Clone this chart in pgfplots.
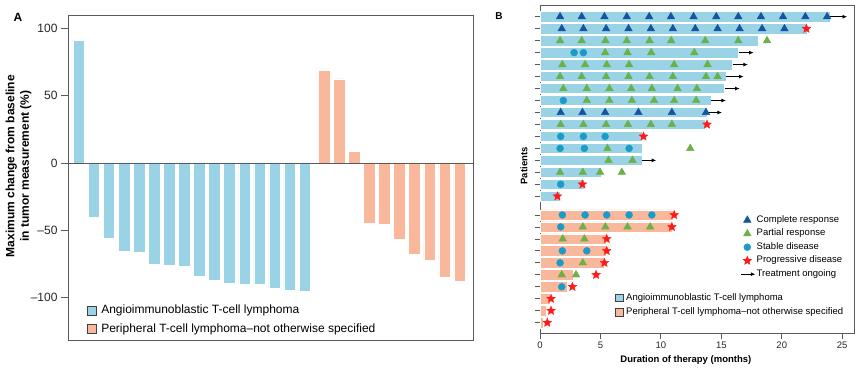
\documentclass[border=0pt]{standalone}
\usepackage{fontspec}
\setmainfont{Liberation Sans}
\usepackage{pgfplots}
\pgfplotsset{compat=1.18}
\usetikzlibrary{arrows.meta}
\definecolor{aitl}{HTML}{9BD3E6}
\definecolor{ptcl}{HTML}{F9B79B}
\definecolor{cr}{HTML}{1455A0}
\definecolor{pr}{HTML}{6CB04A}
\definecolor{sd}{HTML}{1B9CC8}
\definecolor{pd}{HTML}{FF1A1A}
\definecolor{axgray}{HTML}{5A5A5A}
\pgfdeclareplotmark{fstar}{%
  \pgfpathmoveto{\pgfpointpolar{90}{\pgfplotmarksize}}%
  \pgfpathlineto{\pgfpointpolar{126}{0.45\pgfplotmarksize}}%
  \pgfpathlineto{\pgfpointpolar{162}{\pgfplotmarksize}}%
  \pgfpathlineto{\pgfpointpolar{198}{0.45\pgfplotmarksize}}%
  \pgfpathlineto{\pgfpointpolar{234}{\pgfplotmarksize}}%
  \pgfpathlineto{\pgfpointpolar{270}{0.45\pgfplotmarksize}}%
  \pgfpathlineto{\pgfpointpolar{306}{\pgfplotmarksize}}%
  \pgfpathlineto{\pgfpointpolar{342}{0.45\pgfplotmarksize}}%
  \pgfpathlineto{\pgfpointpolar{18}{\pgfplotmarksize}}%
  \pgfpathlineto{\pgfpointpolar{54}{0.45\pgfplotmarksize}}%
  \pgfpathclose
  \pgfusepathqfillstroke
}
\pgfplotsset{
  markleg/.style={legend image code/.code={\draw[mark repeat=2,mark phase=2,##1] plot coordinates {(0pt,0pt)(6pt,0pt)(12pt,0pt)};}},
  arrowleg/.style={legend image code/.code={\draw[##1] (0pt,0pt) -- (14pt,0pt);}},
  boxA/.style={legend image code/.code={\draw[fill=#1,draw=black!75,line width=0.7pt] (0pt,-4.5pt) rectangle (9pt,4.5pt); \path (12pt,0pt);}},
  boxB/.style={legend image code/.code={\draw[fill=#1,draw=black!75,line width=0.6pt] (0pt,-3.8pt) rectangle (7.6pt,3.8pt); \path (9.5pt,0pt);}},
}
\begin{document}
\begin{tikzpicture}
\path[use as bounding box] (0pt,0pt) rectangle (865pt,372pt);
\node[font=\bfseries\fontsize{12}{14}\selectfont] at (18pt,355pt) {A};
\node[font=\bfseries\fontsize{10}{12}\selectfont] at (499pt,356pt) {B};
% ---------------- Panel A ----------------
\begin{axis}[
  at={(68pt,32pt)}, anchor=south west, scale only axis,
  width=405pt, height=325pt,
  xmin=0.283, xmax=27.16, ymin=-131.6, ymax=110,
  xtick=\empty,
  ytick={-100,-50,0,50,100},
  yticklabels={--100,--50,0,50,100},
  ytick pos=left, tick align=outside, major tick length=7pt,
  tick style={axgray, line width=0.9pt},
  axis line style={axgray, line width=0.9pt},
  /pgf/number format/assume math mode=true,
  tick label style={font=\fontsize{12}{14}\selectfont, text=black!85},
  ylabel={Maximum change from baseline\\in tumor measurement (\%)},
  ylabel style={at={(axis description cs:-0.1222,0.535)}, anchor=center, align=center,
    font=\bfseries\fontsize{12}{14.5}\selectfont},
  legend cell align=left,
  legend style={at={(0.047,0.114)}, anchor=north west, draw=none, fill=none,
    inner sep=0pt, font=\fontsize{12}{14}\selectfont, row sep=3.7pt,
    nodes={inner sep=1.5pt, text height=9pt, text depth=3pt}},
]
\addplot[ybar, bar width=0.77, bar shift=0pt, fill=aitl, draw=white, line width=0.5pt, forget plot]
 coordinates {(1,91)(2,-40)(3,-56)(4,-65.4)(5,-66.4)(6,-75.3)(7,-76.1)(8,-77.1)
 (9,-84)(10,-87.5)(11,-89.2)(12,-90.2)(13,-90.2)(14,-93.4)(15,-94.4)(16,-95.4)};
\addplot[ybar, bar width=0.77, bar shift=0pt, fill=ptcl, draw=white, line width=0.5pt, forget plot]
 coordinates {(17.28,68.6)(18.28,62.5)(19.28,8.4)(20.28,-44.6)(21.28,-45.6)
 (22.28,-56.7)(23.28,-68.2)(24.28,-72.4)(25.28,-84.8)(26.28,-88.2)};
\addplot[axgray, line width=0.9pt, forget plot] coordinates {(0.283,0)(27.16,0)};
\addlegendimage{boxA=aitl}
\addlegendentry{Angioimmunoblastic T-cell lymphoma}
\addlegendimage{boxA=ptcl}
\addlegendentry{Peripheral T-cell lymphoma--not otherwise specified}
\end{axis}
% ---------------- Panel B ----------------
\begin{axis}[
  at={(540pt,38.7pt)}, anchor=south west, scale only axis,
  width=314.3pt, height=328.3pt,
  xmin=0, xmax=26, ymin=0.114, ymax=27.54,
  xtick={0,5,10,15,20,25},
  ytick={1,2,3,4,5,6,7,8,9,10,11.56,12.56,13.56,14.56,15.56,16.56,17.56,18.56,19.56,20.56,21.56,22.56,23.56,24.56,25.56,26.56},
  yticklabels={},
  xtick pos=bottom, ytick pos=left, tick align=outside, major tick length=5.5pt,
  tick style={axgray, line width=0.8pt},
  axis line style={axgray, line width=0.9pt},
  /pgf/number format/assume math mode=true,
  tick label style={font=\fontsize{9.5}{11}\selectfont, text=black!85},
  xlabel={Duration of therapy (months)},
  xlabel style={at={(axis description cs:0.464,-0.081)}, anchor=center, font=\bfseries\fontsize{9.5}{11}\selectfont},
  ylabel={Patients},
  ylabel style={at={(axis description cs:-0.051,0.51)}, anchor=center, font=\bfseries\fontsize{9.5}{11}\selectfont},
  legend cell align=left,
  legend style={at={(0.6386,0.3626)}, anchor=north west, draw=none, fill=none,
    inner sep=0pt, font=\fontsize{9.5}{11}\selectfont, row sep=2pt,
    nodes={inner sep=1pt, text height=7pt, text depth=2.5pt}},
]
\addplot[xbar, bar width=0.86, bar shift=0pt, fill=aitl, draw=white, line width=0.5pt, forget plot]
 coordinates {(24.03,26.56)(22.1,25.56)(18.09,24.56)(16.43,23.56)(15.93,22.56)(15.41,21.56)
 (15.27,20.56)(14.14,19.56)(13.81,18.56)(13.67,17.56)(8.42,16.56)(8.42,15.56)(8.42,14.56)
 (5.03,13.56)(3.67,12.56)(1.66,11.56)};
\addplot[xbar, bar width=0.86, bar shift=0pt, fill=ptcl, draw=white, line width=0.5pt, forget plot]
 coordinates {(11.05,10)(10.91,9)(5.47,8)(5.47,7)(5.3,6)(2.71,5)(2.26,4)(0.83,3)(0.5,2)(0.28,1)};
% treatment ongoing arrows
\addplot[black, line width=0.8pt, -{Latex[length=4.5pt,width=4pt]}, quiver={u=\thisrow{u},v=0}, forget plot]
 table[row sep=\\] {x y u\\ 24.03 26.56 1.37\\ 16.43 23.56 1.24\\ 15.93 22.56 1.27\\ 15.41 21.56 1.43\\
 15.27 20.56 1.24\\ 14.14 19.56 1.24\\ 13.81 18.56 1.24\\ 8.42 14.56 1.19\\};
% complete response
\addplot[only marks, mark=triangle*, mark size=4.4pt, color=cr, forget plot] coordinates {
 (1.66,26.56)(3.45,26.56)(5.33,26.56)(7.18,26.56)(9.03,26.56)(10.83,26.56)(12.7,26.56)
 (14.58,26.56)(16.4,26.56)(18.28,26.56)(20.1,26.56)(21.95,26.56)(23.75,26.56)
 (1.8,25.56)(3.59,25.56)(5.47,25.56)(7.32,25.56)(9.17,25.56)(10.99,25.56)(12.84,25.56)
 (14.69,25.56)(16.51,25.56)(18.37,25.56)(20.22,25.56)
 (1.71,18.56)(3.51,18.56)(5.39,18.56)(8.14,18.56)(10.91,18.56)(13.73,18.56)};
% partial response
\addplot[only marks, mark=triangle*, mark size=4.4pt, color=pr, forget plot] coordinates {
 (1.66,24.56)(3.45,24.56)(5.41,24.56)(7.18,24.56)(9.06,24.56)(10.85,24.56)(13.67,24.56)(16.4,24.56)(18.78,24.56)
 (5.39,23.56)(7.24,23.56)(9.2,23.56)(12.76,23.56)
 (1.85,22.56)(3.73,22.56)(5.52,22.56)(7.37,22.56)(11.1,22.56)(13.86,22.56)
 (1.66,21.56)(3.45,21.56)(5.47,21.56)(7.32,21.56)(9.06,21.56)(10.99,21.56)(13.73,21.56)(14.69,21.56)
 (1.93,20.56)(3.87,20.56)(5.74,20.56)(7.54,20.56)(9.25,20.56)(11.38,20.56)(12.98,20.56)
 (3.87,19.56)(5.74,19.56)(7.6,19.56)(9.44,19.56)(11.1,19.56)(12.92,19.56)
 (1.71,17.56)(3.59,17.56)(5.47,17.56)(7.27,17.56)(9.17,17.56)(10.91,17.56)
 (5.58,15.56)(12.43,15.56)
 (5.66,14.56)(7.65,14.56)
 (1.66,13.56)(3.54,13.56)(4.97,13.56)(6.77,13.56)
 (3.54,9)(5.41,9)(7.24,9)(9.11,9)
 (1.88,8)(3.67,8)
 (3.54,6)
 (1.8,5)(2.98,5)};
% stable disease
\addplot[only marks, mark=*, mark size=3.5pt, color=sd, forget plot] coordinates {
 (2.82,23.56)(3.59,23.56)
 (1.93,19.56)
 (1.71,16.56)(3.59,16.56)(5.39,16.56)
 (1.66,15.56)(3.67,15.56)(7.37,15.56)
 (1.71,12.56)
 (1.85,10)(3.73,10)(5.52,10)(7.37,10)(9.25,10)
 (1.71,9)
 (1.85,7)(3.87,7)
 (1.66,6)
 (1.8,4)};
% progressive disease
\addplot[only marks, mark=fstar, mark size=4.6pt, color=pd, mark options={fill=pd, line width=0.3pt}, forget plot] coordinates {
 (22.04,25.56)(13.81,17.56)(8.56,16.56)(3.51,12.56)(1.44,11.56)
 (11.1,10)(10.91,9)(5.52,8)(5.52,7)(5.33,6)(4.64,5)(2.68,4)(0.91,3)(0.91,2)(0.6,1)};
% legend
\addlegendimage{only marks, mark=triangle*, mark size=4.4pt, color=cr, markleg}
\addlegendentry{Complete response}
\addlegendimage{only marks, mark=triangle*, mark size=4.4pt, color=pr, markleg}
\addlegendentry{Partial response}
\addlegendimage{only marks, mark=*, mark size=3.5pt, color=sd, markleg}
\addlegendentry{Stable disease}
\addlegendimage{only marks, mark=fstar, mark size=4.6pt, color=pd, mark options={fill=pd, line width=0.3pt}, markleg}
\addlegendentry{Progressive disease}
\addlegendimage{black, line width=0.8pt, -{Latex[length=4.5pt,width=4pt]}, arrowleg}
\addlegendentry{Treatment ongoing}
\end{axis}
% second legend of panel B
\begin{axis}[
  at={(540pt,38.7pt)}, anchor=south west, scale only axis,
  width=314.3pt, height=328.3pt, hide axis,
  xmin=0, xmax=1, ymin=0, ymax=1,
  legend cell align=left,
  legend style={at={(0.2386,0.1258)}, anchor=north west, draw=none, fill=none,
    inner sep=0pt, font=\fontsize{9.5}{11}\selectfont, row sep=2.8pt,
    nodes={inner sep=1pt, text height=7pt, text depth=2.5pt}},
]
\addlegendimage{boxB=aitl}
\addlegendentry{Angioimmunoblastic T-cell lymphoma}
\addlegendimage{boxB=ptcl}
\addlegendentry{Peripheral T-cell lymphoma--not otherwise specified}
\end{axis}
\end{tikzpicture}
\end{document}
